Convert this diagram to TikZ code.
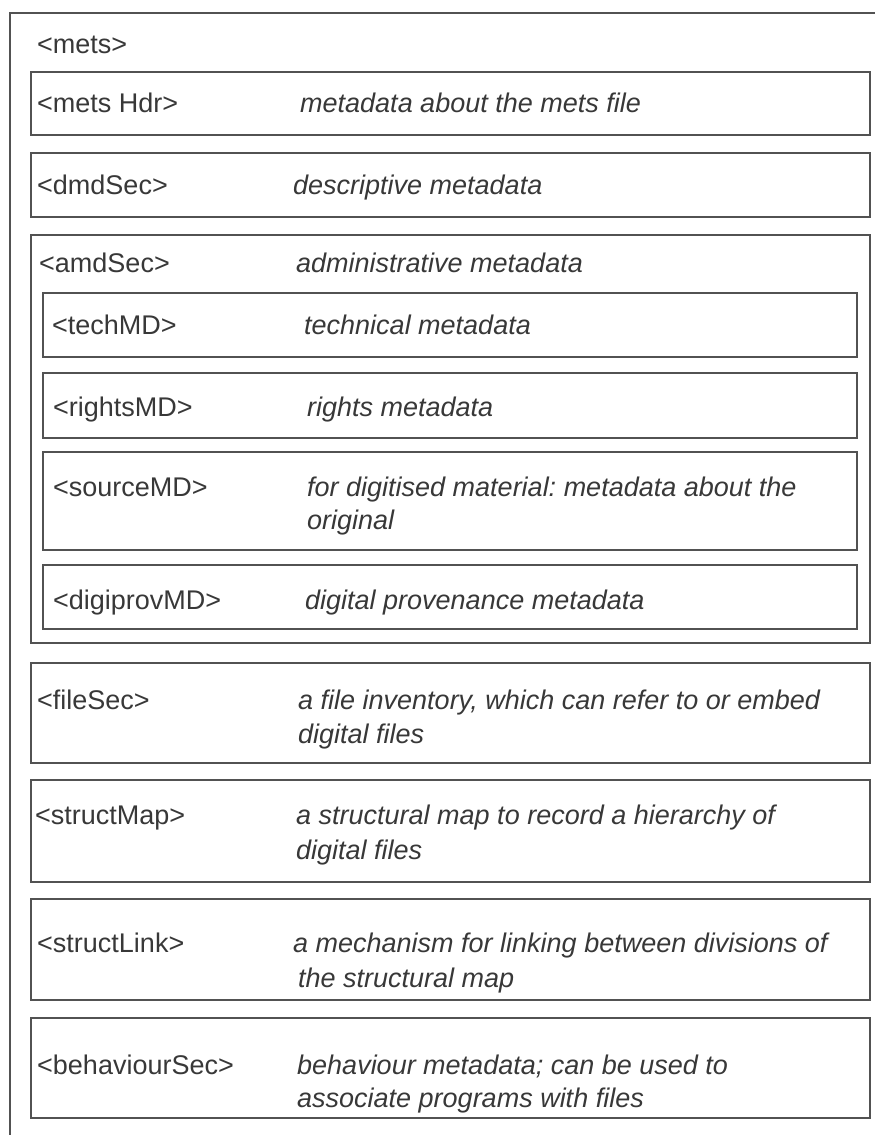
\documentclass[tikz,border=0pt]{standalone}
\usepackage{fontspec}
\setmainfont{Liberation Sans}
\frenchspacing
\begin{document}
\begin{tikzpicture}[x=1pt,y=-1pt,
  frame/.style={draw=black!68,line width=2pt},
  tag/.style={anchor=base west,inner sep=0pt,text=black!78,font=\fontsize{27}{32}\selectfont},
  desc/.style={tag,font=\fontsize{27}{32}\selectfont\itshape}]
\useasboundingbox (0,0) rectangle (875,1135);
\begin{scope}
\clip (0,0) rectangle (875,1135);
% outer <mets> element, open to the right and bottom
\draw[frame] (880,13) -- (10,13) -- (10,1140);
% top-level sections
\draw[frame] (31,72) rectangle (870,135);
\draw[frame] (31,153) rectangle (870,217);
\draw[frame] (31,235) rectangle (870,643);
\draw[frame] (31,663) rectangle (870,763);
\draw[frame] (31,780) rectangle (870,882);
\draw[frame] (31,899) rectangle (870,1000);
\draw[frame] (31,1018) rectangle (870,1118);
% subsections of <amdSec>
\draw[frame] (43,293) rectangle (857,357);
\draw[frame] (43,373) rectangle (857,438);
\draw[frame] (43,452) rectangle (857,550);
\draw[frame] (43,565) rectangle (857,629);
\end{scope}

\node[tag] (mets) at (37,53) {<mets>};

\node[tag]  (hdr)  at (37,112)  {<mets Hdr>};
\node[desc] (hdrd) at (300,112) {metadata about the mets file};

\node[tag]  (dmd)  at (37,194)  {<dmdSec>};
\node[desc] (dmdd) at (293,194) {descriptive metadata};

\node[tag]  (amd)  at (39,272)  {<amdSec>};
\node[desc] (amdd) at (296,272) {administrative metadata};

\node[tag]  (tech)  at (52,334)  {<techMD>};
\node[desc] (techd) at (304,334) {technical metadata};

\node[tag]  (rights)  at (53,416)  {<rightsMD>};
\node[desc] (rightsd) at (307,416) {rights metadata};

\node[tag]  (source)  at (53,496)  {<sourceMD>};
\node[desc] (sourced) at (307,496) {for digitised material: metadata about the};
\node[desc] (sourcee) at (307,529) {original};

\node[tag]  (prov)  at (53,609)  {<digiprovMD>};
\node[desc] (provd) at (305,609) {digital provenance metadata};

\node[tag]  (file)  at (37,709)  {<fileSec>};
\node[desc] (filed) at (298,709) {a file inventory, which can refer to or embed};
\node[desc] (filee) at (298,743) {digital files};

\node[tag]  (smap)  at (35,824)  {<structMap>};
\node[desc] (smapd) at (296,824) {a structural map to record a hierarchy of};
\node[desc] (smape) at (296,859) {digital files};

\node[tag]  (slink)  at (37,952)  {<structLink>};
\node[desc] (slinkd) at (293,952) {a mechanism for linking between divisions of};
\node[desc] (slinke) at (298,987) {the structural map};

\node[tag]  (behav)  at (37,1074)  {<behaviourSec>};
\node[desc] (behavd) at (297,1074) {behaviour metadata; can be used to};
\node[desc] (behave) at (297,1107) {associate programs with files};
\end{tikzpicture}
\end{document}
